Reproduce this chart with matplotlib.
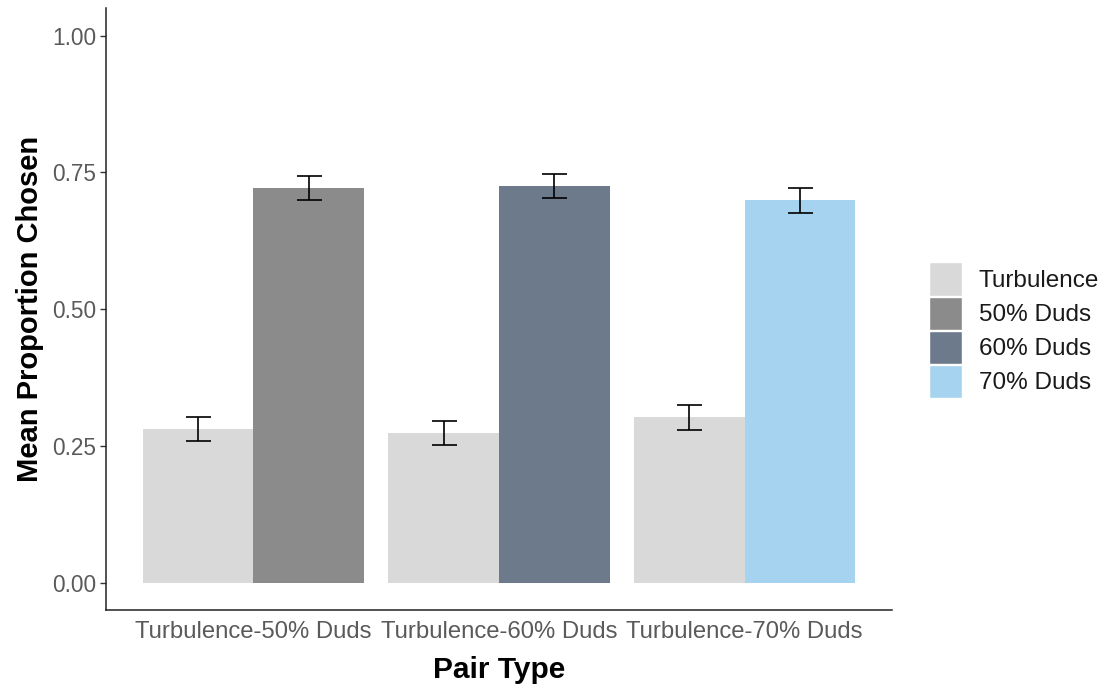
import matplotlib
matplotlib.use("Agg")
import matplotlib.pyplot as plt
import numpy as np
from matplotlib.patches import Patch

plt.rcParams['font.family'] = ['Liberation Sans', 'DejaVu Sans']

pair_types = ["Turbulence-50% Duds", "Turbulence-60% Duds", "Turbulence-70% Duds"]
turbulence_mean = [0.280, 0.273, 0.302]
turbulence_se = [0.022, 0.022, 0.023]
duds_mean = [0.722, 0.725, 0.699]
duds_se = [0.022, 0.022, 0.023]
duds_labels = ["50% Duds", "60% Duds", "70% Duds"]
y_ticks = [0.00, 0.25, 0.50, 0.75, 1.00]

turb_color = "#D9D9D9"
duds_colors = ["#8B8B8B", "#6D7A8B", "#A6D4F0"]

fig = plt.figure(figsize=(11.02, 6.84), dpi=100)
ax = fig.add_axes([0.0962, 0.1082, 0.8094 - 0.0962, 0.988 - 0.1082])

x = np.arange(1, len(pair_types) + 1)
w = 0.45
ax.bar(x - w / 2, turbulence_mean, width=w, color=turb_color, zorder=2)
ax.bar(x + w / 2, duds_mean, width=w, color=duds_colors, zorder=2)

ek = dict(fmt="none", ecolor="black", elinewidth=1.2, capsize=9, capthick=1.2, zorder=3)
ax.errorbar(x - w / 2, turbulence_mean, yerr=turbulence_se, **ek)
ax.errorbar(x + w / 2, duds_mean, yerr=duds_se, **ek)

ax.set_xlim(0.4, 3.6)
ax.set_ylim(-0.05, 1.05)
ax.set_xticks(x)
ax.set_xticklabels(pair_types)
ax.set_yticks(y_ticks)
ax.set_yticklabels([f"{v:.2f}" for v in y_ticks])

for side in ("top", "right"):
    ax.spines[side].set_visible(False)
for side in ("left", "bottom"):
    ax.spines[side].set_color("#222222")
    ax.spines[side].set_linewidth(1.1)
ax.tick_params(axis="y", colors="#333333", labelcolor="#5A5A5A",
               labelsize=16.3, length=4, width=1.0, pad=3)
ax.tick_params(axis="x", labelcolor="#5A5A5A", labelsize=17.2, length=0, pad=8)

ax.set_xlabel("Pair Type", fontsize=21.5, fontweight="bold", labelpad=9)
ax.set_ylabel("Mean Proportion Chosen", fontsize=21, fontweight="bold", labelpad=6)

handles = [Patch(facecolor=turb_color, edgecolor="white", linewidth=1)] + \
          [Patch(facecolor=c, edgecolor="white", linewidth=1) for c in duds_colors]
labels = ["Turbulence"] + duds_labels
leg = fig.legend(handles, labels, loc="center left", bbox_to_anchor=(0.843, 0.517),
                 frameon=False, fontsize=17.5, handlelength=1.36, handleheight=1.75,
                 labelspacing=0.02, handletextpad=0.68, borderaxespad=0, borderpad=0)
for t in leg.get_texts():
    t.set_color("#1A1A1A")

fig.savefig("out.png", dpi=100)
